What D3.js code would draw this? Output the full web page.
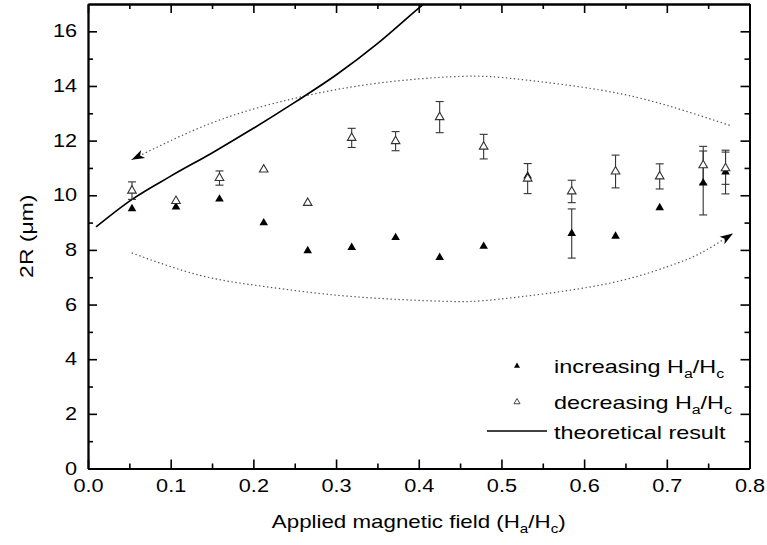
<!DOCTYPE html>
<html>
<head>
<meta charset="utf-8">
<script src="https://cdn.jsdelivr.net/npm/d3@7"></script>
<style>
  body { margin: 0; background: #fff; }
  text { font-family: "Liberation Sans", Arial, sans-serif; fill: #000; }
</style>
</head>
<body>
<div id="chart"></div>
<script>
// Measured points (applied field H_a/H_c)
const fieldValues = [0.0532, 0.1064, 0.159, 0.2125, 0.2657, 0.3189, 0.372, 0.4253,
  0.4785, 0.5317, 0.585, 0.638, 0.6914, 0.744, 0.771];

// 2R (um) for increasing field
const increasingSize = [9.51, 9.57, 9.86, 8.99, 7.97, 8.09, 8.45, 7.72,
  8.13, 10.7, 8.6, 8.5, 9.54, 10.45, 10.85];
const increasingError = [0, 0, 0, 0, 0, 0, 0, 0, 0, 0, 0.9, 0, 0, 1.17, 0.8];

// 2R (um) for decreasing field
const decreasingSize = [10.17, 9.79, 10.63, 10.94, 9.72, 12.1, 11.98, 12.86,
  11.78, 10.61, 10.14, 10.87, 10.69, 11.1, 10.99];
const decreasingError = [0.32, 0, 0.26, 0, 0, 0.35, 0.35, 0.57,
  0.45, 0.55, 0.41, 0.6, 0.46, 0.69, 0.59];

// Theoretical curve
const theoryField = [0.0097, 0.0528, 0.1, 0.15, 0.2, 0.25, 0.3, 0.35, 0.4, 0.42];
const theorySize = [8.84, 9.84, 10.7, 11.55, 12.45, 13.4, 14.4, 15.55, 16.85, 17.35];

// Dotted guide arrows (drawn from start to arrow tip)
const upperGuideField = [0.776, 0.70, 0.62, 0.52, 0.45, 0.35, 0.25, 0.15, 0.0527];
const upperGuideSize = [12.56, 13.29, 13.85, 14.25, 14.35, 14.1, 13.55, 12.65, 11.3];
const lowerGuideField = [0.0528, 0.1354, 0.216, 0.3168, 0.43, 0.498, 0.619, 0.70, 0.74, 0.780];
const lowerGuideSize = [7.89, 7.07, 6.65, 6.3, 6.12, 6.2, 6.71, 7.38, 7.87, 8.6];

// Ticks
const xTickValues = [0, 0.1, 0.2, 0.3, 0.4, 0.5, 0.6, 0.7, 0.8];
const xMinorValues = [0.05, 0.15, 0.25, 0.35, 0.45, 0.55, 0.65, 0.75];
const yTickValues = [0, 2, 4, 6, 8, 10, 12, 14, 16];
const yMinorValues = [1, 3, 5, 7, 9, 11, 13, 15];

const width = 767;
const height = 545;
const margin = { top: 4, right: 17.5, bottom: 76.5, left: 88 };
const stretch = 1.24;
const legendStretch = 1.3;

const svg = d3.select("#chart").append("svg")
  .attr("width", width)
  .attr("height", height);

const x = d3.scaleLinear().domain([0, 0.8]).range([margin.left, width - margin.right]);
const y = d3.scaleLinear().domain([0, 17]).range([height - margin.bottom, margin.top]);

svg.append("clipPath").attr("id", "plot-clip")
  .append("rect")
  .attr("x", x(0)).attr("y", y(17))
  .attr("width", x(0.8) - x(0)).attr("height", y(0) - y(17));

// Arrow marker
svg.append("defs").append("marker")
  .attr("id", "arrow")
  .attr("markerUnits", "userSpaceOnUse")
  .attr("markerWidth", 16).attr("markerHeight", 12)
  .attr("refX", 0).attr("refY", 0)
  .attr("viewBox", "-14 -6 16 12")
  .attr("orient", "auto")
  .append("path")
  .attr("d", "M0,0 L-13,-4.5 L-9.5,0 L-13,4.5 Z")
  .attr("fill", "#000");

// Axes
function styleAxis(g) {
  g.selectAll("path, line").attr("stroke", "#000").attr("stroke-width", 1.6);
  g.select(".domain").attr("stroke-width", 1.8);
}

svg.append("g")
  .attr("transform", `translate(0,${y(0)})`)
  .call(d3.axisBottom(x).tickValues(xMinorValues).tickSize(-5).tickSizeOuter(0).tickFormat(""))
  .call(styleAxis);
const xAxis = svg.append("g")
  .attr("transform", `translate(0,${y(0)})`)
  .call(d3.axisBottom(x).tickValues(xTickValues).tickSize(-9).tickSizeOuter(0)
    .tickPadding(11).tickFormat(d3.format(".1f")))
  .call(styleAxis);
xAxis.selectAll("text")
  .attr("font-size", 17.5)
  .attr("transform", `scale(${stretch},1)`);

svg.append("g")
  .attr("transform", `translate(0,${y(17)})`)
  .call(d3.axisTop(x).tickValues(xMinorValues).tickSize(-5).tickSizeOuter(0).tickFormat(""))
  .call(styleAxis);
svg.append("g")
  .attr("transform", `translate(0,${y(17)})`)
  .call(d3.axisTop(x).tickValues(xTickValues).tickSize(-9).tickSizeOuter(0).tickFormat(""))
  .call(styleAxis);

svg.append("g")
  .attr("transform", `translate(${x(0)},0)`)
  .call(d3.axisLeft(y).tickValues(yMinorValues).tickSize(-5).tickSizeOuter(0).tickFormat(""))
  .call(styleAxis);
const yAxis = svg.append("g")
  .attr("transform", `translate(${x(0)},0)`)
  .call(d3.axisLeft(y).tickValues(yTickValues).tickSize(-9).tickSizeOuter(0).tickFormat(d3.format("d")))
  .call(styleAxis);
yAxis.selectAll("text")
  .attr("font-size", 17.5)
  .attr("x", -11 / stretch)
  .attr("transform", `scale(${stretch},1)`);

svg.append("g")
  .attr("transform", `translate(${x(0.8)},0)`)
  .call(d3.axisRight(y).tickValues(yMinorValues).tickSize(-5).tickSizeOuter(0).tickFormat(""))
  .call(styleAxis);
svg.append("g")
  .attr("transform", `translate(${x(0.8)},0)`)
  .call(d3.axisRight(y).tickValues(yTickValues).tickSize(-9).tickSizeOuter(0).tickFormat(""))
  .call(styleAxis);

// Dotted guides
const guideLine = d3.line()
  .x(d => x(d[0]))
  .y(d => y(d[1]))
  .curve(d3.curveNatural);

svg.append("path")
  .datum(d3.zip(upperGuideField, upperGuideSize))
  .attr("d", guideLine)
  .attr("fill", "none")
  .attr("stroke", "#555")
  .attr("stroke-width", 1.2)
  .attr("stroke-dasharray", "1.4,2.6")
  .attr("marker-end", "url(#arrow)");

svg.append("path")
  .datum(d3.zip(lowerGuideField, lowerGuideSize))
  .attr("d", guideLine)
  .attr("fill", "none")
  .attr("stroke", "#555")
  .attr("stroke-width", 1.2)
  .attr("stroke-dasharray", "1.4,2.6")
  .attr("marker-end", "url(#arrow)");

// Theoretical result
svg.append("path")
  .datum(d3.zip(theoryField, theorySize))
  .attr("clip-path", "url(#plot-clip)")
  .attr("d", d3.line().x(d => x(d[0])).y(d => y(d[1])).curve(d3.curveMonotoneX))
  .attr("fill", "none")
  .attr("stroke", "#000")
  .attr("stroke-width", 1.7);

// Error bars
function errorBars(values, errors) {
  const rows = fieldValues.map((f, i) => ({ f, v: values[i], e: errors[i] })).filter(d => d.e > 0);
  const g = svg.append("g").attr("stroke", "#333").attr("stroke-width", 1.1);
  g.selectAll("line.bar").data(rows).join("line")
    .attr("x1", d => x(d.f)).attr("x2", d => x(d.f))
    .attr("y1", d => y(d.v - d.e)).attr("y2", d => y(d.v + d.e));
  g.selectAll("line.top").data(rows).join("line")
    .attr("x1", d => x(d.f) - 4).attr("x2", d => x(d.f) + 4)
    .attr("y1", d => y(d.v + d.e)).attr("y2", d => y(d.v + d.e));
  g.selectAll("line.bottom").data(rows).join("line")
    .attr("x1", d => x(d.f) - 4).attr("x2", d => x(d.f) + 4)
    .attr("y1", d => y(d.v - d.e)).attr("y2", d => y(d.v - d.e));
}
errorBars(decreasingSize, decreasingError);
errorBars(increasingSize, increasingError);

const triangle = d3.symbol().type(d3.symbolTriangle).size(32);

svg.append("g").selectAll("path")
  .data(d3.zip(fieldValues, increasingSize))
  .join("path")
  .attr("transform", d => `translate(${x(d[0])},${y(d[1])})`)
  .attr("d", triangle)
  .attr("fill", "#000");

svg.append("g").selectAll("path")
  .data(d3.zip(fieldValues, decreasingSize))
  .join("path")
  .attr("transform", d => `translate(${x(d[0])},${y(d[1])})`)
  .attr("d", triangle)
  .attr("fill", "#fff")
  .attr("stroke", "#333")
  .attr("stroke-width", 1.1);

// Text helper: label with H_a/H_c subscripts
function subLabel(t, prefix, suffix) {
  t.append("tspan").text(prefix + "H");
  t.append("tspan").attr("font-size", "0.68em").attr("dy", 5).text("a");
  t.append("tspan").attr("dy", -5).text("/H");
  t.append("tspan").attr("font-size", "0.68em").attr("dy", 5).text("c");
  if (suffix) t.append("tspan").attr("dy", -5).text(suffix);
}

// Axis titles
const xTitle = svg.append("text")
  .attr("transform", `translate(${(x(0) + x(0.8)) / 2},528) scale(${stretch},1)`)
  .attr("text-anchor", "middle")
  .attr("font-size", 18);
subLabel(xTitle, "Applied magnetic field (", ")");

svg.append("text")
  .attr("transform", `translate(33,${(y(0) + y(17)) / 2}) rotate(-90) scale(${stretch},1)`)
  .attr("text-anchor", "middle")
  .attr("font-size", 18.5)
  .text("2R (\u03bcm)");

// Legend
const legend = svg.append("g");
const small = d3.symbol().type(d3.symbolTriangle).size(16);
legend.append("path").attr("d", small).attr("transform", "translate(517,366)").attr("fill", "#000");
legend.append("path").attr("d", small).attr("transform", "translate(517,402)")
  .attr("fill", "#fff").attr("stroke", "#444").attr("stroke-width", 1);
legend.append("line").attr("x1", 487).attr("x2", 547).attr("y1", 431).attr("y2", 431)
  .attr("stroke", "#000").attr("stroke-width", 1.5);

const l1 = legend.append("text").attr("transform", `translate(554,373) scale(${legendStretch},1)`).attr("font-size", 18);
subLabel(l1, "increasing ", "");
const l2 = legend.append("text").attr("transform", `translate(554,409) scale(${legendStretch},1)`).attr("font-size", 18);
subLabel(l2, "decreasing ", "");
legend.append("text").attr("transform", `translate(554,439) scale(${legendStretch},1)`).attr("font-size", 18)
  .text("theoretical result");
</script>
</body>
</html>
